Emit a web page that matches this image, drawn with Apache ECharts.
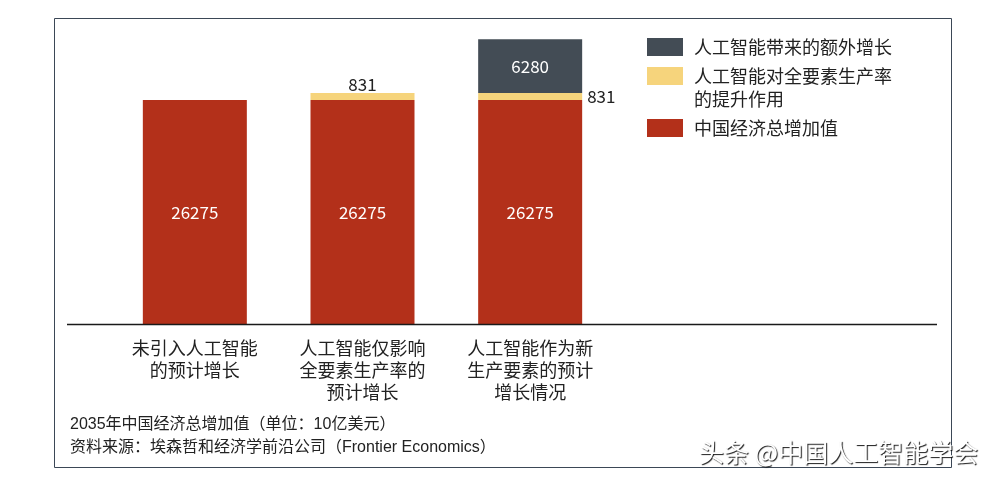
<!DOCTYPE html>
<html>
<head>
<meta charset="utf-8">
<script src="https://cdn.jsdelivr.net/npm/echarts@6/dist/echarts.min.js"></script>
<style>
html,body{margin:0;padding:0;background:#fff;}
#chart{width:998px;height:482px;}
</style>
</head>
<body>
<div id="chart"></div>
<script>
// Data
const categories = ['未引入人工智能\n的预计增长', '人工智能仅影响\n全要素生产率的\n预计增长', '人工智能作为新\n生产要素的预计\n增长情况'];
const seriesNames = ['中国经济总增加值', '人工智能对全要素生产率的提升作用', '人工智能带来的额外增长'];
const baseValues = [26275, 26275, 26275];
const tfpValues = ['-', 831, 831];
const extraValues = ['-', '-', 6280];
const footnoteLines = ['2035年中国经济总增加值（单位：10亿美元）', '资料来源：埃森哲和经济学前沿公司（Frontier Economics）'];
const watermark = '头条 @中国人工智能学会';

const CJK = '"Noto Sans CJK SC", "Noto Sans", sans-serif';
const LAT = '"Liberation Sans", "Noto Sans CJK SC", sans-serif';
const NUM = '"Liberation Sans Narrow", "Noto Sans CJK SC", sans-serif';
const colors = {red: '#b3301a', yellow: '#f6d47c', dark: '#434c55', text: '#222'};

const chart = echarts.init(document.getElementById('chart'), null, {renderer: 'canvas'});

const legendRich = {
  s: {lineHeight: 23, fontSize: 10},
  t: {lineHeight: 18, fontSize: 18, fontFamily: CJK, color: colors.text, padding: [0, 0, 0, 6]},
  u: {lineHeight: 23, fontSize: 18, fontFamily: CJK, color: colors.text, padding: [0, 0, 0, 6]}
};
const legendBase = {
  orient: 'vertical', left: 647, padding: 0, itemWidth: 36, itemHeight: 18,
  icon: 'rect', itemGap: 0, selectedMode: false,
  formatter: function (name) { return '{t|' + name + '}'; },
  textStyle: {fontFamily: CJK, fontSize: 18, color: colors.text, lineHeight: 18, rich: legendRich}
};

const option = {
  animation: false,
  backgroundColor: '#fff',
  grid: {left: 111, width: 503, top: 25.5, bottom: 157.5},
  xAxis: {
    type: 'category', data: categories,
    axisLine: {show: false}, axisTick: {show: false},
    axisLabel: {margin: 12.5, fontFamily: CJK, fontSize: 18, lineHeight: 22, color: colors.text, interval: 0}
  },
  yAxis: {type: 'value', min: 0, max: 35000, show: false, splitLine: {show: false}},
  legend: [
    Object.assign({}, legendBase, {top: 38, data: [seriesNames[2]]}),
    Object.assign({}, legendBase, {
      top: 41.5, data: [seriesNames[1]],
      formatter: function () { return '{s| }\n{u|人工智能对全要素生产率}\n{u|的提升作用}'; },
      textStyle: {fontFamily: CJK, fontSize: 18, color: colors.text, lineHeight: 23, rich: legendRich}
    }),
    Object.assign({}, legendBase, {top: 119, data: [seriesNames[0]]})
  ],
  title: [
    {
      text: footnoteLines.join('\n'), left: 70, top: 413.5, padding: 0,
      textStyle: {fontFamily: LAT, fontSize: 16, fontWeight: 'normal', color: colors.text, lineHeight: 23}
    },
    {
      text: watermark, left: 699, top: 438, padding: 0,
      textStyle: {fontFamily: CJK, fontSize: 25, lineHeight: 28, fontWeight: 'normal', color: '#ffffff',
        textShadowColor: 'rgba(0,0,0,0.9)', textShadowBlur: 1, textShadowOffsetX: 1, textShadowOffsetY: 1}
    }
  ],
  series: [
    {
      name: seriesNames[0], type: 'bar', stack: 'total', data: baseValues, barWidth: 104,
      itemStyle: {color: colors.red},
      label: {show: true, position: 'inside', color: '#fff', fontFamily: NUM, fontSize: 17}
    },
    {
      name: seriesNames[1], type: 'bar', stack: 'total', barWidth: 104,
      itemStyle: {color: colors.yellow},
      data: tfpValues.map(function (v, i) {
        if (v === '-') return v;
        return {value: v, label: {show: true, position: i === 2 ? 'right' : 'top', distance: i === 2 ? 5 : 0,
          color: colors.text, fontFamily: NUM, fontSize: 17}};
      })
    },
    {
      name: seriesNames[2], type: 'bar', stack: 'total', data: extraValues, barWidth: 104,
      itemStyle: {color: colors.dark},
      label: {show: true, position: 'inside', color: '#fff', fontFamily: NUM, fontSize: 17}
    }
  ],
  graphic: [
    {type: 'rect', shape: {x: 54.5, y: 18.5, width: 897, height: 449}, style: {fill: null, stroke: '#3b4756', lineWidth: 1}, z: -1},
    {type: 'line', shape: {x1: 67, y1: 324.5, x2: 937, y2: 324.5}, style: {stroke: '#1a1a1a', lineWidth: 1.5}, z: 10}
  ]
};
chart.setOption(option);
</script>
</body>
</html>
